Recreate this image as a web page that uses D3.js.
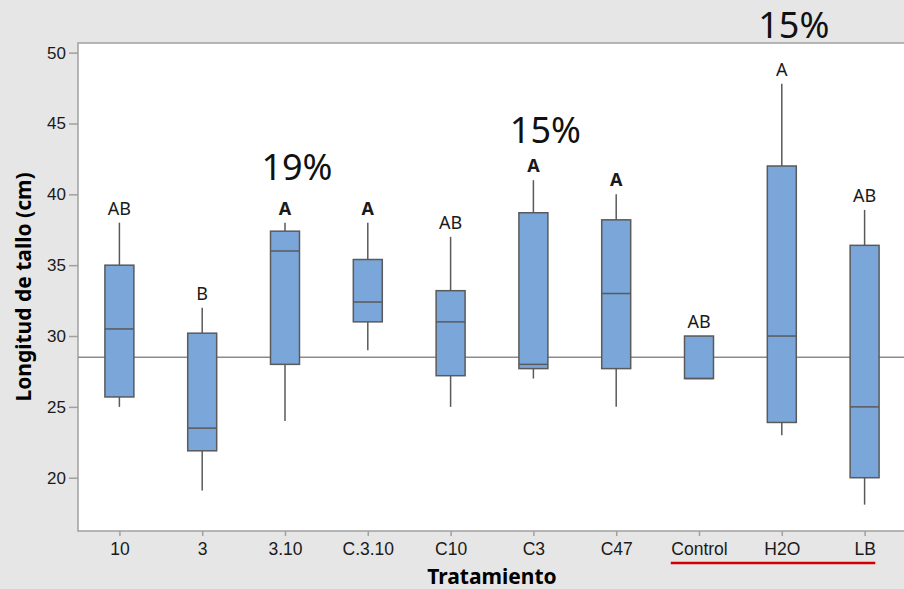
<!DOCTYPE html>
<html>
<head>
<meta charset="utf-8">
<script src="https://cdn.jsdelivr.net/npm/d3@7"></script>
<style>
  body { margin: 0; background: #e6e6e6; }
  svg { display: block; font-family: "Noto Sans", "Open Sans", sans-serif; }
</style>
</head>
<body>
<div id="chart"></div>
<script>
const categories = ["10", "3", "3.10", "C.3.10", "C10", "C3", "C47", "Control", "H2O", "LB"];
const whiskerLow  = [25.0, 19.1, 24.0, 29.0, 25.0, 27.0, 25.0, 27.0, 23.0, 18.1];
const q1          = [25.7, 21.9, 28.0, 31.0, 27.2, 27.7, 27.7, 27.0, 23.9, 20.0];
const median      = [30.5, 23.5, 36.0, 32.4, 31.0, 28.0, 33.0, 27.0, 30.0, 25.0];
const q3          = [35.0, 30.2, 37.4, 35.4, 33.2, 38.7, 38.2, 30.0, 42.0, 36.4];
const whiskerHigh = [38.0, 32.0, 38.0, 38.0, 37.0, 41.0, 40.0, 30.0, 47.8, 38.9];
const groupLetters = ["AB", "B", "A", "A", "AB", "A", "A", "AB", "A", "AB"];
const letterBold = [false, false, true, true, false, true, true, false, false, false];
const yTicks = [20, 25, 30, 35, 40, 45, 50];
const refLine = 28.5;
const pctCats = ["3.10", "C3", "H2O"];
const pctText = ["19%", "15%", "15%"];
const pctAt = [41.0, 43.6, 51.0];

const W = 904, H = 589;
const margin = { top: 43, right: -2, bottom: 58, left: 78 };
const width = W - margin.left - margin.right;
const height = H - margin.top - margin.bottom;

const svg = d3.select("#chart")
  .append("svg")
  .attr("width", W)
  .attr("height", H);

svg.append("rect")
  .attr("width", W).attr("height", H)
  .attr("fill", "#e6e6e6");

const g = svg.append("g")
  .attr("transform", `translate(${margin.left},${margin.top})`);

const x = d3.scalePoint()
  .domain(categories)
  .range([0, width])
  .padding(0.5);

const y = d3.scaleLinear()
  .domain([16.24, 50.68])
  .range([height, 0]);

// plot area
g.append("rect")
  .attr("width", width).attr("height", height)
  .attr("fill", "#fff")
  .attr("stroke", "#a0a0a0")
  .attr("stroke-width", 1.5);

const textColor = "#1a1a1a";

// axes
g.append("g")
  .call(d3.axisLeft(y).tickValues(yTicks).tickSize(9).tickPadding(3))
  .call(a => a.select(".domain").remove())
  .call(a => {
    a.selectAll(".tick line").attr("stroke", "#a0a0a0").attr("stroke-width", 1.5);
    a.selectAll(".tick text").style("font-size", "17px").attr("fill", textColor);
  });

const xAxis = g.append("g")
  .attr("transform", `translate(0,${height})`)
  .call(d3.axisBottom(x).tickSize(5).tickPadding(7))
  .call(a => a.select(".domain").remove())
  .call(a => {
    a.selectAll(".tick line").attr("stroke", "#a0a0a0").attr("stroke-width", 1.5);
    a.selectAll(".tick text").style("font-size", "17.5px").attr("fill", textColor);
  });

// red underline under Control..LB
const tickTexts = {};
xAxis.selectAll(".tick").each(function(d) {
  tickTexts[d] = d3.select(this).select("text").node().getBBox();
});
const ulStart = x("Control") + tickTexts["Control"].x;
const ulEnd = x("LB") + tickTexts["LB"].x + tickTexts["LB"].width;
g.append("line")
  .attr("x1", ulStart).attr("x2", ulEnd)
  .attr("y1", height + 32).attr("y2", height + 32)
  .attr("stroke", "#d00000")
  .attr("stroke-width", 2.5);

// reference line
g.append("line")
  .attr("x1", 0).attr("x2", width)
  .attr("y1", y(refLine)).attr("y2", y(refLine))
  .attr("stroke", "#8c8c8c")
  .attr("stroke-width", 1.5);

// boxes
const boxW = x.step() * 0.35;
const data = categories.map((c, i) => ({
  cat: c, lo: whiskerLow[i], q1: q1[i], med: median[i], q3: q3[i], hi: whiskerHigh[i],
  letter: groupLetters[i], bold: letterBold[i]
}));

const boxes = g.selectAll(".box")
  .data(data)
  .enter()
  .append("g")
  .attr("class", "box")
  .attr("transform", d => `translate(${x(d.cat)},0)`);

const stroke = "#5a5a5a";

boxes.append("line")
  .attr("y1", d => y(d.q3)).attr("y2", d => y(d.hi))
  .attr("stroke", stroke).attr("stroke-width", 1.5);

boxes.append("line")
  .attr("y1", d => y(d.q1)).attr("y2", d => y(d.lo))
  .attr("stroke", stroke).attr("stroke-width", 1.5);

boxes.append("rect")
  .attr("x", -boxW / 2)
  .attr("width", boxW)
  .attr("y", d => y(d.q3))
  .attr("height", d => y(d.q1) - y(d.q3))
  .attr("fill", "#7ba6d9")
  .attr("stroke", stroke)
  .attr("stroke-width", 1.5);

boxes.append("line")
  .attr("x1", -boxW / 2).attr("x2", boxW / 2)
  .attr("y1", d => y(d.med)).attr("y2", d => y(d.med))
  .attr("stroke", stroke).attr("stroke-width", 1.5);

// group letters
boxes.append("text")
  .attr("y", d => y(d.hi) - 8)
  .attr("text-anchor", "middle")
  .style("font-size", "18px")
  .style("font-weight", d => d.bold ? "bold" : "normal")
  .attr("fill", textColor)
  .text(d => d.letter);

// percentage annotations
pctCats.forEach((c, i) => {
  svg.append("text")
    .attr("x", margin.left + x(c) + 12)
    .attr("y", margin.top + y(pctAt[i]))
    .attr("text-anchor", "middle")
    .style("font-size", "36px")
    .attr("fill", "#111")
    .text(pctText[i]);
});

// axis titles
svg.append("text")
  .attr("x", 492)
  .attr("y", 584)
  .attr("text-anchor", "middle")
  .style("font-size", "21px")
  .style("font-weight", "bold")
  .attr("fill", "#000")
  .text("Tratamiento");

svg.append("text")
  .attr("transform", "translate(31,287) rotate(-90)")
  .attr("text-anchor", "middle")
  .style("font-size", "21px")
  .style("font-weight", "bold")
  .attr("fill", "#000")
  .text("Longitud de tallo (cm)");
</script>
</body>
</html>
